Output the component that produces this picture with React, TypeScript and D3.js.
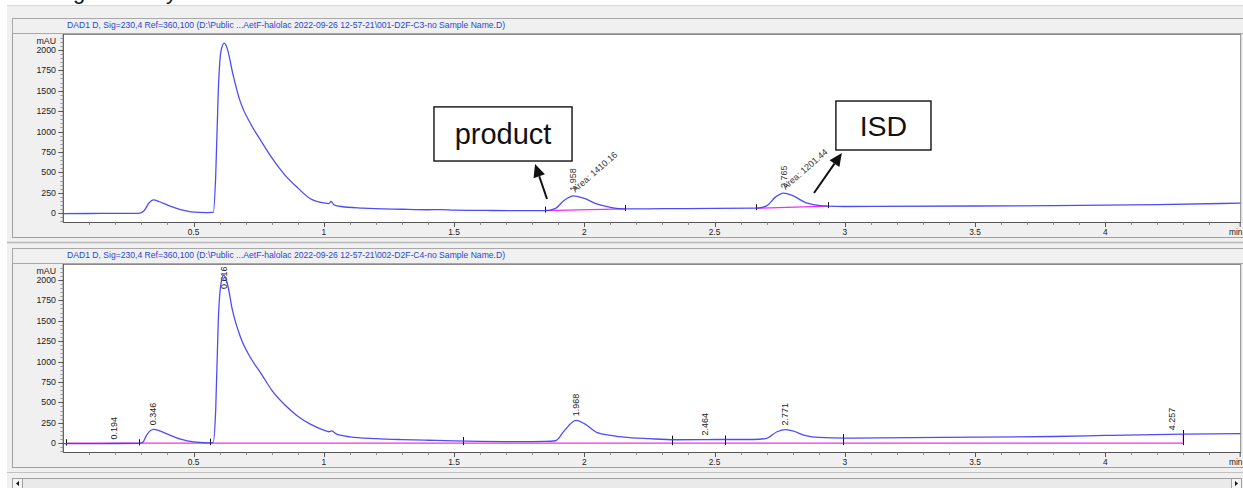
import React from 'react';
import * as d3 from 'd3';

const W = 1243;
const H = 488;

const timeMajorTicks = [0.5, 1, 1.5, 2, 2.5, 3, 3.5, 4];
const mauMajorTicks = [0, 250, 500, 750, 1000, 1250, 1500, 1750, 2000];

const run1Title = 'DAD1 D, Sig=230,4 Ref=360,100 (D:\\Public ...AetF-halolac 2022-09-26 12-57-21\\001-D2F-C3-no Sample Name.D)';
const run2Title = 'DAD1 D, Sig=230,4 Ref=360,100 (D:\\Public ...AetF-halolac 2022-09-26 12-57-21\\002-D2F-C4-no Sample Name.D)';

// [time (min), absorbance (mAU)]
const run1Trace: [number, number][] = [
  [0, -5], [0.1, -4], [0.2, -3], [0.29, -2], [0.31, 30], [0.33, 130], [0.345, 164], [0.37, 140],
  [0.4, 100], [0.45, 45], [0.49, 16], [0.55, 8], [0.576, 10], [0.585, 450], [0.595, 1500],
  [0.605, 1980], [0.618, 2083], [0.63, 2010], [0.65, 1720], [0.68, 1360], [0.72, 1090],
  [0.76, 880], [0.8, 680], [0.85, 470], [0.9, 310], [0.947, 180], [1.0, 125], [1.02, 118],
  [1.028, 145], [1.04, 100], [1.06, 85], [1.15, 62], [1.3, 48], [1.4, 42], [1.45, 44],
  [1.5, 38], [1.65, 33], [1.8, 31], [1.85, 32], [1.89, 60], [1.92, 150], [1.958, 213],
  [2.0, 180], [2.05, 110], [2.1, 72], [2.157, 52], [2.3, 55], [2.5, 58], [2.66, 61],
  [2.7, 90], [2.735, 200], [2.765, 246], [2.8, 215], [2.85, 130], [2.9, 95], [2.935, 86],
  [3.0, 82], [3.5, 88], [3.8, 92], [4.2, 105], [4.52, 123],
];

const run2Trace: [number, number][] = [
  [0, -5], [0.1, -5], [0.2, -4], [0.29, -3], [0.305, 10], [0.32, 100], [0.346, 170], [0.37, 150],
  [0.4, 110], [0.45, 50], [0.5, 15], [0.55, 5], [0.575, 8], [0.585, 400], [0.595, 1500],
  [0.605, 1950], [0.616, 2060], [0.63, 1950], [0.65, 1620], [0.68, 1300], [0.72, 1040],
  [0.76, 850], [0.8, 650], [0.85, 470], [0.9, 330], [0.95, 230], [1.0, 160], [1.02, 140],
  [1.03, 150], [1.05, 110], [1.1, 78], [1.2, 56], [1.3, 44], [1.4, 36], [1.5, 28], [1.6, 22],
  [1.7, 20], [1.8, 20], [1.85, 22], [1.89, 30], [1.925, 160], [1.968, 280], [2.0, 240],
  [2.05, 130], [2.1, 95], [2.15, 75], [2.25, 55], [2.35, 42], [2.5, 45], [2.65, 45],
  [2.7, 60], [2.74, 140], [2.771, 167], [2.8, 150], [2.85, 92], [2.9, 70], [3.0, 62],
  [3.5, 74], [3.8, 82], [4.0, 95], [4.3, 112], [4.52, 117],
];

// run 1 integration: peak RT labels with areas, baseline segments [start, end]
const run1PeakRT = [1.958, 2.765];
const run1PeakArea = ['1410.16', '1201.44'];
const run1Baselines: [number, number][] = [[1.85, 2.157], [2.66, 2.935]];
const run1Events = [1.85, 2.157, 2.66, 2.935];

// run 2 integration
const run2PeakRT = [0.194, 0.346, 0.616, 1.968, 2.464, 2.771, 4.257];
const run2BaselineEnd = 4.3;
const run2Events = [0.01, 0.29, 0.565, 1.535, 2.337, 2.54, 2.995, 4.3];

// annotations in data units (time, mAU)
const productBox = { t0: 1.423, t1: 1.953, v0: 1302, v1: 639, label: 'product' };
const productArrow = { tailT: 1.857, tailV: 174, headT: 1.811, headV: 603 };
const isdBox = { t0: 2.966, t1: 3.331, v0: 1374, v1: 774, label: 'ISD' };
const isdArrow = { tailT: 2.882, tailV: 247, headT: 2.989, headV: 737 };

const FONT = 'Liberation Sans, Arial, sans-serif';
const TRACE = '#3a3af5';
const MAGENTA = '#f030f0';

function valueAt(trace: [number, number][], t: number): number {
  for (let i = 0; i < trace.length - 1; i++) {
    const [t0, v0] = trace[i];
    const [t1, v1] = trace[i + 1];
    if (t >= t0 && t <= t1) return v0 + ((v1 - v0) * (t - t0)) / (t1 - t0);
  }
  return trace[trace.length - 1][1];
}

type PanelProps = {
  id: string;
  title: string;
  frameTop: number;
  plotTop: number;
  plotBottom: number;
  frameBottom: number;
  trace: [number, number][];
  children?: (x: d3.ScaleLinear<number, number>, y: d3.ScaleLinear<number, number>) => React.ReactNode;
};

const PLOT_LEFT = 63.3;
const PLOT_RIGHT = 1240.7;

function Panel({ id, title, frameTop, plotTop, plotBottom, frameBottom, trace, children }: PanelProps) {
  const x = d3.scaleLinear().domain([0, 4.52]).range([PLOT_LEFT, PLOT_RIGHT]);
  const y = d3.scaleLinear().domain([-108, 2195]).range([plotBottom, plotTop]);
  const line = d3
    .line<[number, number]>()
    .x((d) => x(d[0]))
    .y((d) => y(d[1]))
    .curve(d3.curveMonotoneX);
  const minorX = d3.range(1, 46).map((i) => i / 10).filter((t) => Math.abs(t * 2 - Math.round(t * 2)) > 1e-6);
  const minorY = d3.range(-100, 2200, 50).filter((v) => v % 250 !== 0);
  return (
    <g>
      <rect x={12.5} y={frameTop + 0.5} width={1240} height={frameBottom - frameTop} fill="#f0f0f0" stroke="#a0a0a0" />
      <rect x={12.5} y={frameTop + 0.5} width={1240} height={plotTop - frameTop - 1} fill="#f0f0f0" stroke="#a8a8a8" />
      <text x={67} y={frameTop + 10} fontFamily={FONT} fontSize={8.6} fill="#2946d6">
        {title}
      </text>
      <rect x={PLOT_LEFT} y={plotTop + 0.5} width={PLOT_RIGHT - PLOT_LEFT} height={plotBottom - plotTop} fill="#ffffff" stroke="#8a8a8a" />
      <clipPath id={id}>
        <rect x={PLOT_LEFT} y={plotTop} width={PLOT_RIGHT - PLOT_LEFT} height={plotBottom - plotTop} />
      </clipPath>
      <line x1={PLOT_LEFT} x2={PLOT_LEFT} y1={plotTop} y2={plotBottom} stroke="#555" />
      {minorY.map((v) => (
        <line key={'my' + v} x1={PLOT_LEFT - 3} x2={PLOT_LEFT} y1={Math.round(y(v)) + 0.5} y2={Math.round(y(v)) + 0.5} stroke="#888" strokeWidth={0.8} />
      ))}
      {mauMajorTicks.map((v) => (
        <g key={'y' + v}>
          <line x1={PLOT_LEFT - 5} x2={PLOT_LEFT} y1={Math.round(y(v)) + 0.5} y2={Math.round(y(v)) + 0.5} stroke="#555" />
          <text x={56} y={y(v)} dy="0.35em" textAnchor="end" fontFamily={FONT} fontSize={8.8} fill="#222">
            {v}
          </text>
        </g>
      ))}
      <text x={56} y={plotTop + 7} dy="0.35em" textAnchor="end" fontFamily={FONT} fontSize={8.8} fill="#222">
        mAU
      </text>
      <line x1={PLOT_LEFT} x2={PLOT_RIGHT} y1={plotBottom + 0.5} y2={plotBottom + 0.5} stroke="#555" />
      {minorX.map((t) => (
        <line key={'mx' + t} x1={Math.round(x(t)) + 0.5} x2={Math.round(x(t)) + 0.5} y1={plotBottom} y2={plotBottom + 3} stroke="#777" strokeWidth={0.8} />
      ))}
      {timeMajorTicks.map((t) => (
        <g key={'x' + t}>
          <line x1={Math.round(x(t)) + 0.5} x2={Math.round(x(t)) + 0.5} y1={plotBottom} y2={plotBottom + 5} stroke="#555" />
          <text x={x(t)} y={plotBottom + 13} textAnchor="middle" fontFamily={FONT} fontSize={8.4} fill="#222">
            {t}
          </text>
        </g>
      ))}
      <line x1={PLOT_RIGHT - 0.5} x2={PLOT_RIGHT - 0.5} y1={plotBottom} y2={plotBottom + 5} stroke="#555" />
      <text x={PLOT_RIGHT - 5} y={plotBottom + 13} textAnchor="middle" fontFamily={FONT} fontSize={8.4} fill="#222">
        min
      </text>
      <g clipPath={`url(#${id})`}>
        {children && children(x, y)}
        <path d={line(trace) || ''} fill="none" stroke={TRACE} strokeWidth={1.3} strokeOpacity={0.9} />
      </g>
    </g>
  );
}

function EventTicks({ events, trace, x, y, base }: { events: number[]; trace: [number, number][]; x: any; y: any; base?: number }) {
  return (
    <g>
      {events.map((t) => {
        const yc = y(valueAt(trace, t));
        const yb = base === undefined ? yc : y(base);
        const top = Math.min(yc, yb) - 4;
        const bot = Math.max(yc, yb) + 2;
        return <line key={t} x1={Math.round(x(t)) + 0.5} x2={Math.round(x(t)) + 0.5} y1={top} y2={bot} stroke="#111" strokeWidth={1} />;
      })}
    </g>
  );
}

function Arrow({ a, x, y }: { a: typeof productArrow; x: any; y: any }) {
  const x1 = x(a.tailT), y1 = y(a.tailV), x2 = x(a.headT), y2 = y(a.headV);
  const ang = Math.atan2(y2 - y1, x2 - x1);
  const L = 13, Wd = 6;
  const bx = x2 - L * Math.cos(ang), by = y2 - L * Math.sin(ang);
  const p1 = [bx + Wd * Math.sin(ang), by - Wd * Math.cos(ang)];
  const p2 = [bx - Wd * Math.sin(ang), by + Wd * Math.cos(ang)];
  return (
    <g>
      <line x1={x1} y1={y1} x2={bx} y2={by} stroke="#111" strokeWidth={2} />
      <polygon points={`${x2},${y2} ${p1[0]},${p1[1]} ${p2[0]},${p2[1]}`} fill="#111" />
    </g>
  );
}

function Box({ b, x, y, fontSize }: { b: typeof productBox; x: any; y: any; fontSize: number }) {
  const x0 = x(b.t0), x1 = x(b.t1), y0 = y(b.v0), y1 = y(b.v1);
  return (
    <g>
      <rect x={x0} y={y0} width={x1 - x0} height={y1 - y0} fill="#fff" stroke="#111" strokeWidth={1.4} />
      <text x={(x0 + x1) / 2} y={(y0 + y1) / 2} dy="0.36em" textAnchor="middle" fontFamily={FONT} fontSize={fontSize} fill="#111">
        {b.label}
      </text>
    </g>
  );
}

export default function App() {
  return (
    <svg width={W} height={H} style={{ position: 'absolute', left: 0, top: 0 }}>
      <rect x={0} y={0} width={W} height={H} fill="#ffffff" />
      <rect x={7} y={5} width={W - 7} height={H - 5} fill="#f0f0f0" />
      <line x1={7} x2={W} y1={5.5} y2={5.5} stroke="#d8d8d8" />
      <text fontFamily={FONT} fontSize={22} fill="#111">
        <tspan x={73} y={-1}>g</tspan>
        <tspan x={166} y={-1}>y</tspan>
      </text>

      <Panel id="clip1" title={run1Title} frameTop={18} plotTop={34} plotBottom={222} frameBottom={237} trace={run1Trace}>
        {(x, y) => (
          <g>
            {run1Baselines.map(([s, e]) => (
              <line key={s} x1={x(s)} y1={y(valueAt(run1Trace, s))} x2={x(e)} y2={y(valueAt(run1Trace, e))} stroke={MAGENTA} strokeWidth={1.3} />
            ))}
            <EventTicks events={run1Events} trace={run1Trace} x={x} y={y} />
            {run1PeakRT.map((rt, i) => {
              const px = x(rt);
              const py = y(valueAt(run1Trace, rt)) - 5;
              return (
                <g key={rt}>
                  <text transform={`translate(${px + 3},${py}) rotate(-90)`} fontFamily={FONT} fontSize={9} fill="#3a3a3a">
                    {rt.toFixed(3)}
                  </text>
                  <text transform={`translate(${px + 2},${py + 2}) rotate(-41)`} fontFamily={FONT} fontSize={9} fill="#3a3a3a">
                    {`Area: ${run1PeakArea[i]}`}
                  </text>
                </g>
              );
            })}
          </g>
        )}
      </Panel>

      <line x1={7} x2={W} y1={242.5} y2={242.5} stroke="#b8b8b8" strokeWidth={1.5} />

      <Panel id="clip2" title={run2Title} frameTop={248} plotTop={264} plotBottom={452} frameBottom={467} trace={run2Trace}>
        {(x, y) => (
          <g>
            <line x1={x(run2Events[0])} y1={y(0)} x2={x(run2BaselineEnd)} y2={y(0)} stroke={MAGENTA} strokeWidth={1.3} />
            <line x1={x(run2BaselineEnd)} y1={y(0)} x2={x(run2BaselineEnd)} y2={y(valueAt(run2Trace, run2BaselineEnd))} stroke={MAGENTA} strokeWidth={1.3} />
            <EventTicks events={run2Events} trace={run2Trace} x={x} y={y} base={0} />
            {run2PeakRT.map((rt) => {
              const px = x(rt);
              let py = y(valueAt(run2Trace, rt)) - 4;
              if (py - 24 < 265) py = 265 + 24;
              return (
                <text key={rt} transform={`translate(${px + 3},${py}) rotate(-90)`} fontFamily={FONT} fontSize={9} fill="#222">
                  {rt.toFixed(3)}
                </text>
              );
            })}
          </g>
        )}
      </Panel>

      {(() => {
        const x = d3.scaleLinear().domain([0, 4.52]).range([PLOT_LEFT, PLOT_RIGHT]);
        const y = d3.scaleLinear().domain([-108, 2195]).range([222, 34]);
        return (
          <g>
            <Box b={productBox} x={x} y={y} fontSize={29} />
            <Box b={isdBox} x={x} y={y} fontSize={28.5} />
            <Arrow a={productArrow} x={x} y={y} />
            <Arrow a={isdArrow} x={x} y={y} />
          </g>
        );
      })()}

      <line x1={7} x2={W} y1={472.5} y2={472.5} stroke="#c0c0c0" />
      <rect x={12.5} y={478.5} width={1229} height={10} fill="#eaeaea" stroke="#a0a0a0" />
      <rect x={12.5} y={478.5} width={10} height={10} fill="#f4f4f4" stroke="#a0a0a0" />
      <rect x={1231.5} y={478.5} width={10} height={10} fill="#f4f4f4" stroke="#a0a0a0" />
      <path d={d3.line()([[19, 481], [19, 486], [16, 483.5]]) + 'Z'} fill="#111" />
      <path d={d3.line()([[1235, 481], [1235, 486], [1238, 483.5]]) + 'Z'} fill="#111" />
    </svg>
  );
}
